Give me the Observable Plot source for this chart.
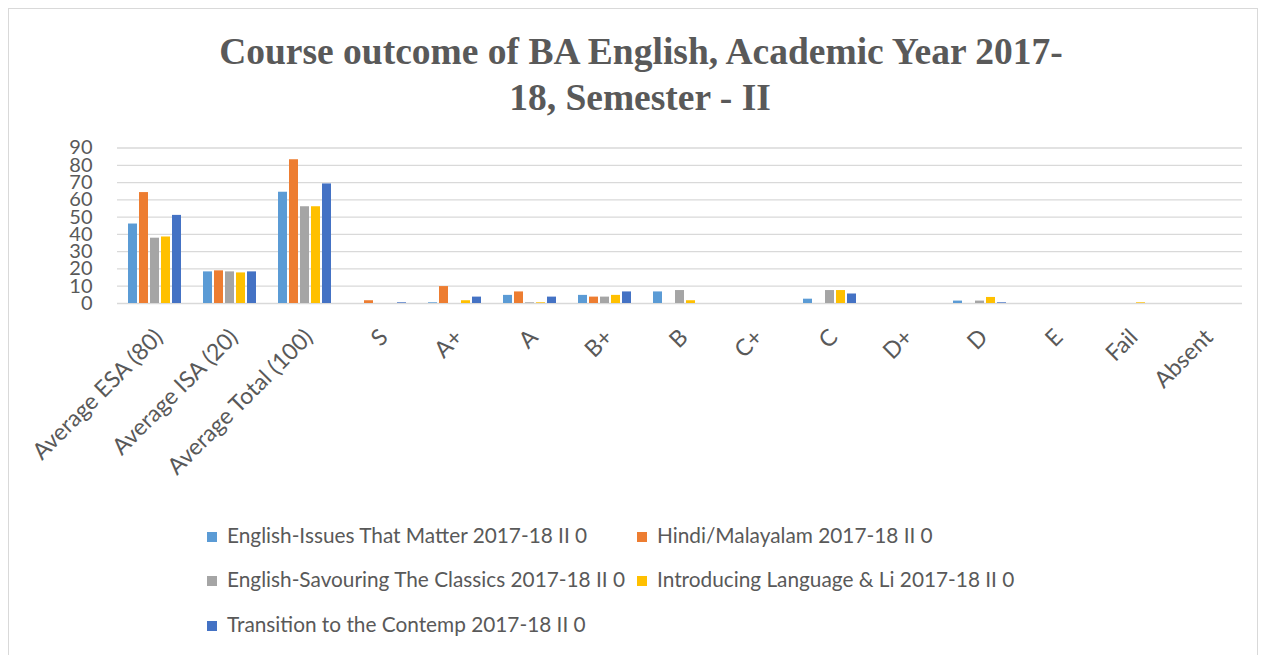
<!DOCTYPE html>
<html><head><meta charset="utf-8">
<script src="https://cdn.jsdelivr.net/npm/d3@7"></script>
<script src="https://cdn.jsdelivr.net/npm/@observablehq/plot@0.6"></script>
<style>
body{margin:0;background:#fff;}
#wrap{position:relative;width:1262px;height:655px;overflow:hidden;background:#fff;font-family:Lato,sans-serif;}
#frame{position:absolute;left:8px;top:8px;width:1250px;height:660px;border:1px solid #d9d9d9;box-sizing:border-box;}
.tl{position:absolute;white-space:nowrap;font-family:"Liberation Serif",serif;font-weight:bold;font-size:37.5px;line-height:45px;color:#595959;transform:translateX(-50%);}
#chart{position:absolute;left:0;top:0;}
.leg{position:absolute;font-size:20.8px;line-height:24px;color:#595959;white-space:nowrap;font-family:Lato,sans-serif;}
.sw{display:inline-block;width:10px;height:10px;margin-right:10px;vertical-align:middle;position:relative;top:-1px;}
</style></head><body>
<div id="wrap">
<div id="frame"></div>
<div class="tl" id="t1" style="left:641px;top:29px;">Course outcome of BA English, Academic Year 2017-</div>
<div class="tl" id="t2" style="left:640px;top:75px;">18, Semester - II</div>
<div id="chart"></div>
<div id="legend"></div>
</div>
<script>
const categories = ["Average ESA (80)","Average ISA (20)","Average Total (100)","S","A+","A","B+","B","C+","C","D+","D","E","Fail","Absent"];
const series = [
  "English-Issues That Matter 2017-18 II 0",
  "Hindi/Malayalam 2017-18 II 0",
  "English-Savouring The Classics 2017-18 II 0",
  "Introducing Language & Li 2017-18 II 0",
  "Transition to the Contemp 2017-18 II 0"
];
const issuesThatMatter = [46, 18.3, 64.4, 0, 0.4, 4.7, 4.7, 6.7, 0, 2.5, 0, 1.4, 0, 0, 0];
const hindiMalayalam   = [64.2, 18.9, 83.2, 1.6, 9.8, 6.7, 3.7, 0, 0, 0, 0, 0, 0, 0, 0];
const savouringClassics= [37.8, 18.3, 56, 0, 0, 0.4, 3.7, 7.5, 0, 7.5, 0, 1.4, 0, 0, 0];
const introducingLang  = [38.5, 17.7, 56, 0, 1.6, 0.4, 4.7, 1.6, 0, 7.5, 0, 3.5, 0, 0.4, 0];
const transitionContemp= [51, 18.3, 69.2, 0.4, 3.7, 3.7, 6.7, 0, 0, 5.5, 0, 0.4, 0, 0, 0];
const colors = ["#5B9BD5","#ED7D31","#A5A5A5","#FFC000","#4472C4"];
const yTicks = [0,10,20,30,40,50,60,70,80,90];

const allSeries = [issuesThatMatter, hindiMalayalam, savouringClassics, introducingLang, transitionContemp];
const data = [];
allSeries.forEach((vals, si) => vals.forEach((v, ci) => data.push({cat: categories[ci], series: series[si], value: v})));

const plot = Plot.plot({
  width: 1262, height: 480,
  marginLeft: 117, marginRight: 20, marginTop: 147.5, marginBottom: 177,
  fx: {domain: categories, padding: 0, label: null},
  x: {domain: series, axis: null, paddingInner: 0.22, paddingOuter: 0.86},
  y: {domain: [0, 90], label: null},
  color: {domain: series, range: colors},
  style: {fontFamily: "Lato, sans-serif", color: "#595959", background: "transparent"},
  marks: [
    Plot.gridY(yTicks, {stroke: "#d9d9d9", strokeOpacity: 1, strokeWidth: 1.3}),
    Plot.axisY(yTicks, {tickSize: 0, tickPadding: 25, fontSize: 20, fill: "#595959", label: null}),
    Plot.axisFx({anchor: "bottom", tickRotate: -45, tickSize: 0, tickPadding: 30, dx: 4, fontSize: 23, fill: "#595959", label: null}),
    Plot.barY(data, {fx: "cat", x: "series", y: "value", fill: "series"})
  ]
});
document.getElementById("chart").appendChild(plot);

const legendPos = [[207, 535], [637, 535], [207, 579], [637, 579], [207, 624]];
const leg = document.getElementById("legend");
series.forEach((s, i) => {
  const d = document.createElement("div");
  d.className = "leg";
  d.style.left = legendPos[i][0] + "px";
  d.style.top = (legendPos[i][1] - 12) + "px";
  const sw = document.createElement("span");
  sw.className = "sw";
  sw.style.background = colors[i];
  d.appendChild(sw);
  d.appendChild(document.createTextNode(s));
  leg.appendChild(d);
});
</script>
</body></html>
